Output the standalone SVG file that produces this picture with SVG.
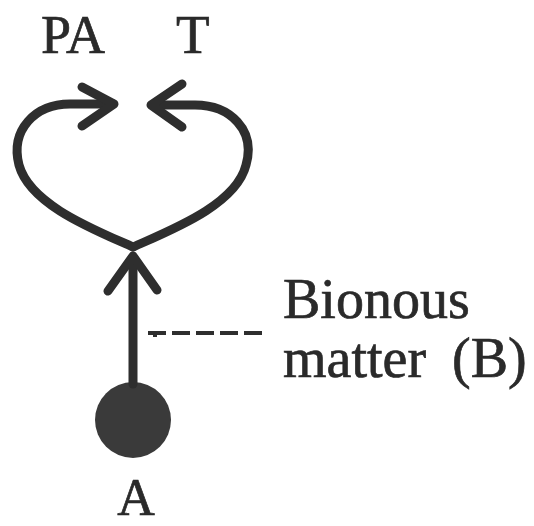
<svg xmlns="http://www.w3.org/2000/svg" width="534" height="526" viewBox="0 0 534 526">
  <style>
    .label { font-family: "Liberation Serif", "Times New Roman", serif; font-size: 56px; fill: #2a2a2a; stroke: #2a2a2a; stroke-width: 0.7; }
    .stroke { fill: none; stroke: #2e2e2e; stroke-width: 9; stroke-linecap: round; stroke-linejoin: round; }
    .dash { fill: none; stroke: #2e2e2e; stroke-width: 4; stroke-dasharray: 18 6; }
  </style>
  <rect width="534" height="526" fill="#ffffff"/>

  <g id="node-PA">
    <text class="label" x="41" y="53" style="font-size:54px">PA</text>
  </g>
  <g id="node-T">
    <text class="label" x="176" y="53" style="font-size:55px">T</text>
  </g>
  <g id="node-A">
    <circle cx="133" cy="420" r="38" fill="#3a3a3a"/>
    <text class="label" x="136" y="515" text-anchor="middle" style="font-size:52px">A</text>
  </g>
  <g id="node-B">
    <text class="label" x="283" y="318">Bionous</text>
    <text class="label" x="283" y="377">matter <tspan x="452">(B)</tspan></text>
  </g>

  <g id="connectors">
    <!-- A to the branching point -->
    <path class="stroke" d="M133 384 L133 258"/>
    <path class="stroke" d="M108 291 L133 256 L157 290"/>
    <!-- left loop towards PA -->
    <path class="stroke" d="M133 247 C95 230 30 205 19 165 C10 130 35 104 70 104 L113 104"/>
    <path class="stroke" d="M82 87 L114 104 L82 126"/>
    <!-- right loop towards T -->
    <path class="stroke" d="M133 247 C171 230 236 205 246 165 C256 130 230 105 195 105 L152 105"/>
    <path class="stroke" d="M182 84 L151 105 L182 127"/>
    <!-- leader for B -->
    <path class="dash" d="M148 333 L268 333"/>
    <path class="dash" d="M155 333 L155 337" stroke-dasharray="none"/>
  </g>
</svg>
